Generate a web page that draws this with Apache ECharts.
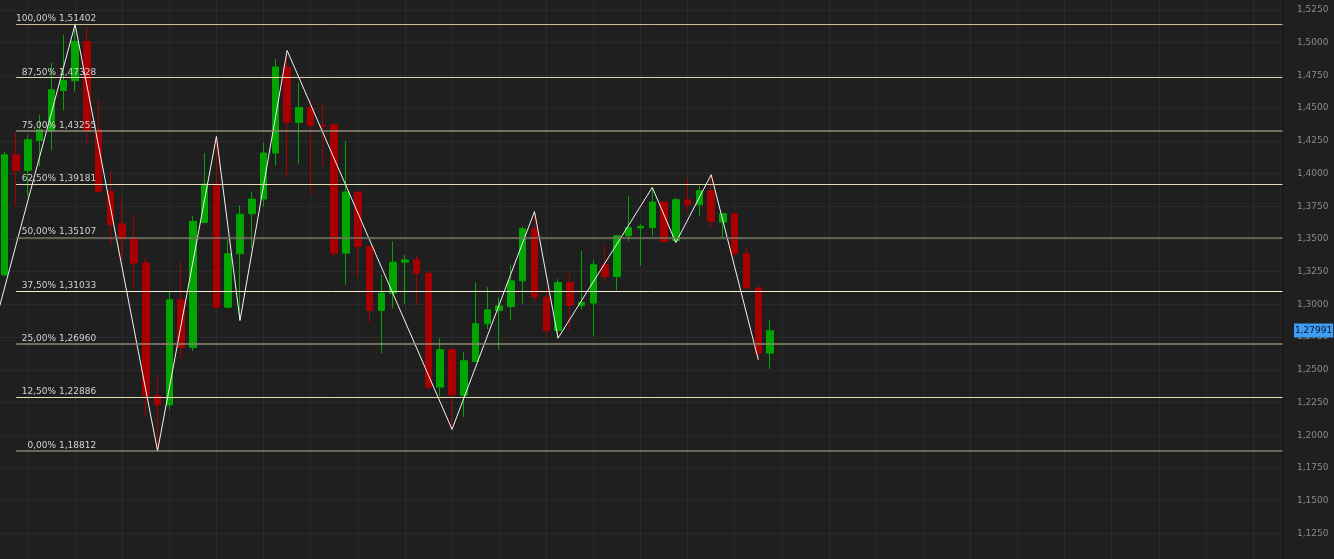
<!DOCTYPE html>
<html><head><meta charset="utf-8">
<script src="https://cdn.jsdelivr.net/npm/echarts@6/dist/echarts.min.js"></script>
<style>html,body{margin:0;padding:0;background:#1f1f1f;}#c{width:1334px;height:559px;}</style>
</head><body><div id="c"></div>
<script>
// ---- data ----
const opens  = [1.3226,1.4144,1.4024,1.4253,1.4327,1.4635,1.4709,1.5010,1.4335,1.3863,1.3616,1.3507,1.3316,1.2304,1.2232,1.3035,1.2671,1.3626,1.3920,1.2979,1.3387,1.3693,1.3805,1.4157,1.4814,1.4391,1.4505,1.4370,1.4373,1.3392,1.3859,1.3443,1.2953,1.3086,1.3323,1.3341,1.3239,1.2368,1.2653,1.2305,1.2564,1.2852,1.2953,1.2984,1.3180,1.3578,1.3056,1.2800,1.3167,1.2992,1.3010,1.3303,1.3213,1.3524,1.3584,1.3588,1.3782,1.3488,1.3800,1.3762,1.3869,1.3629,1.3693,1.3387,1.3125,1.2628];
const closes = [1.4144,1.4024,1.4258,1.4335,1.4641,1.4712,1.5010,1.4330,1.3863,1.3609,1.3502,1.3316,1.2304,1.2232,1.3035,1.2671,1.3634,1.3920,1.2979,1.3387,1.3690,1.3805,1.4157,1.4814,1.4391,1.4505,1.4368,1.4362,1.3392,1.3859,1.3443,1.2953,1.3086,1.3323,1.3340,1.3239,1.2368,1.2653,1.2309,1.2569,1.2852,1.2959,1.2989,1.3180,1.3578,1.3056,1.2800,1.3167,1.2992,1.3015,1.3303,1.3213,1.3524,1.3588,1.3596,1.3782,1.3481,1.3800,1.3762,1.3869,1.3634,1.3693,1.3387,1.3125,1.2628,1.27991];
const lows   = [1.3215,1.3749,1.3825,1.4054,1.4177,1.4482,1.4628,1.4220,1.3855,1.3448,1.3328,1.3117,1.2148,1.18812,1.2200,1.2590,1.2645,1.3620,1.2970,1.2972,1.2877,1.3430,1.3749,1.4062,1.3970,1.4075,1.3843,1.4057,1.3366,1.3150,1.3213,1.2862,1.2628,1.2972,1.3005,1.2997,1.2342,1.2301,1.2045,1.2138,1.2560,1.2811,1.2658,1.2877,1.3005,1.3022,1.2750,1.2742,1.2800,1.2959,1.2755,1.3175,1.3106,1.3481,1.3295,1.3524,1.3478,1.3473,1.3710,1.3672,1.3588,1.3507,1.3366,1.3123,1.2577,1.2505];
const highs  = [1.4169,1.4322,1.4297,1.4450,1.4845,1.5061,1.51402,1.5125,1.4570,1.4016,1.3813,1.3690,1.3354,1.2462,1.3094,1.3328,1.3677,1.4157,1.4284,1.3494,1.3754,1.3863,1.4238,1.4875,1.4941,1.4692,1.4564,1.4541,1.4386,1.4245,1.3862,1.3447,1.3226,1.3481,1.3379,1.3379,1.3242,1.2742,1.2655,1.2635,1.3167,1.3132,1.3056,1.3303,1.3596,1.3710,1.3125,1.3193,1.3239,1.3410,1.3341,1.3448,1.3530,1.3830,1.3616,1.3894,1.3785,1.3817,1.3966,1.3907,1.3991,1.3693,1.3693,1.3438,1.3150,1.2882];
const zigIndex = [-1,6,13,18,20,24,38,45,47,55,57,60,64];
const zigPrice = [1.2786,1.51402,1.18812,1.4284,1.2877,1.4941,1.2045,1.3710,1.2742,1.3894,1.3473,1.3991,1.2577];
const fibLow = 1.18812, fibHigh = 1.51402;
const fibPercents = [0,12.5,25,37.5,50,62.5,75,87.5,100];
const fibColors = ['#868270','#e8dcae','#8f8a74','#f2ead2','#7a7766','#e6dab0','#958f79','#ddd4b8','#cdbf92'];
const fibWidths = [1.6,1,1.6,1,1.6,1,1.6,1,1];
const fibStartIndex = 1;
const lastPrice = 1.27991;
// axis value = candle index + X_SHIFT so that vertical grid lines (every 4th candle) land on multiples of 4
const X_SHIFT = 2;
const X_MAX = 110.5;

const fmt = (v, d) => (v + 1e-9).toFixed(d).replace('.', ',');

const candleData = opens.map((o, i) => [i + X_SHIFT, o, closes[i], lows[i], highs[i]]);
const zigData = zigIndex.map((ix, k) => [ix + X_SHIFT, zigPrice[k]]);

const fibLines = fibPercents.map((p, k) => {
  const lvl = fibLow + (fibHigh - fibLow) * p / 100;
  const txt = fmt(p, 2) + '% ' + fmt(lvl, 5);
  return [
    { coord: [fibStartIndex + X_SHIFT, lvl],
      lineStyle: { color: fibColors[k], width: fibWidths[k], type: 'solid' },
      label: { formatter: '{a|' + txt + '}' } },
    { coord: [X_MAX, lvl] }
  ];
});

const chart = echarts.init(document.getElementById('c'), null, { renderer: 'canvas' });
chart.setOption({
  backgroundColor: '#1f1f1f',
  animation: false,
  grid: { left: -19.16, right: 51.5, top: -22.7, bottom: -7.1, containLabel: false, outerBoundsMode: 'none' },
  xAxis: {
    type: 'value', min: 0, max: X_MAX, interval: 4,
    axisLine: { show: false }, axisTick: { show: false }, axisLabel: { show: false },
    splitLine: { show: true, showMinLine: false, showMaxLine: false, lineStyle: { color: '#2a2a2a', width: 1 } }
  },
  yAxis: {
    type: 'value', position: 'right', min: 1.1, max: 1.55, interval: 0.025, offset: 10.5,
    axisLine: { show: true, lineStyle: { color: '#5a5a5a', width: 1 } },
    axisTick: { show: true, inside: true, length: 10, lineStyle: { color: '#666' } },
    minorTick: { show: true, splitNumber: 5, length: 5, lineStyle: { color: '#5a5a5a' } },
    axisLabel: { color: '#8a8a8a', fontFamily: 'DejaVu Sans', fontSize: 9, margin: 4,
      formatter: v => fmt(v, 4) },
    splitLine: { show: true, lineStyle: { color: '#2a2a2a', width: 1 } }
  },
  graphic: [{ type: 'rect', z: -1, shape: { x: 1282.5, y: 0, width: 1, height: 559 }, style: { fill: '#161616' } }],
  series: [
    {
      type: 'candlestick', data: candleData, barWidth: 7, z: 2,
      itemStyle: { color: '#00a500', color0: '#a80000', borderColor: '#00a500', borderColor0: '#a80000', borderWidth: 1 }
    },
    {
      type: 'line', data: zigData, symbol: 'none', z: 4, clip: false,
      lineStyle: { color: '#f2f2f2', width: 1 },
      markLine: {
        silent: true, symbol: ['none', 'none'], animation: false,
        label: {
          show: true, position: 'insideStartTop', distance: [0, 0],
          rich: { a: { width: 80, align: 'right', color: '#d2d2d2', fontFamily: 'DejaVu Sans', fontSize: 9, lineHeight: 11 } }
        },
        data: fibLines.concat([{
          yAxis: lastPrice,
          lineStyle: { color: 'rgba(0,0,0,0)', width: 0 },
          label: { position: 'end', distance: 11.5, formatter: fmt(lastPrice, 5),
            backgroundColor: '#3d9df6', color: '#0b1420', fontFamily: 'DejaVu Sans', fontSize: 9,
            padding: [2, 1, 2, 1], lineHeight: 10, rich: {} }
        }])
      }
    }
  ]
});
</script>
</body></html>
